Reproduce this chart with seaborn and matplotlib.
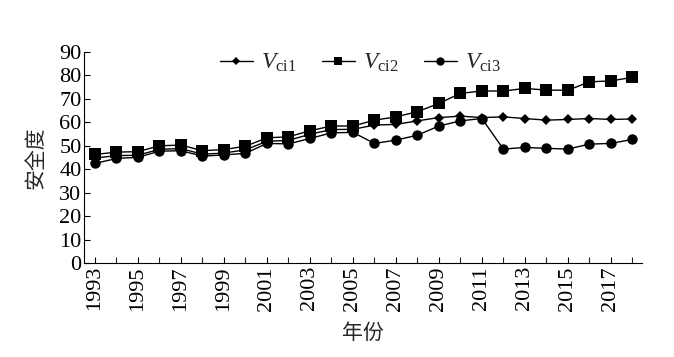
import numpy as np
import pandas as pd
import seaborn as sns
from matplotlib import pyplot as plt

years = list(range(1993, 2019))

v_ci1 = [44.8, 45.8, 46.0, 48.5, 48.8, 46.4, 46.9, 48.3, 51.9, 52.3, 54.9, 56.9, 57.0,
         58.8, 59.1, 60.6, 62.0, 62.6, 62.0, 62.3, 61.6, 60.9, 61.2, 61.6, 61.2, 61.4]
v_ci2 = [46.3, 47.3, 47.5, 50.0, 50.3, 47.9, 48.4, 49.8, 53.4, 53.8, 56.4, 58.4, 58.4,
         60.9, 62.3, 64.5, 68.0, 72.3, 73.3, 73.3, 74.4, 73.7, 73.6, 77.2, 77.6, 79.1]
v_ci3 = [42.5, 44.6, 45.1, 47.7, 47.9, 45.6, 46.1, 46.8, 51.0, 50.8, 53.1, 55.5, 55.7,
         51.0, 52.4, 54.5, 58.4, 60.6, 61.6, 48.6, 49.3, 48.9, 48.6, 50.7, 51.0, 52.7]

labels = [r'$V_{\rm ci1}$', r'$V_{\rm ci2}$', r'$V_{\rm ci3}$']

df = pd.DataFrame({'year': years * 3,
                   'value': v_ci1 + v_ci2 + v_ci3,
                   'series': [labels[0]] * len(years) + [labels[1]] * len(years) + [labels[2]] * len(years)})

sns.set_style('ticks')
plt.rcParams['font.family'] = ['Liberation Serif', 'Noto Sans CJK SC', 'DejaVu Sans']
plt.rcParams['mathtext.fontset'] = 'custom'
plt.rcParams['mathtext.rm'] = 'Liberation Serif'
plt.rcParams['mathtext.it'] = 'Liberation Serif:italic'

fig = plt.figure(figsize=(6.74, 3.57), dpi=100)
ax = fig.add_axes([0.125, 0.2625, 0.8275, 0.5925])

markers = {labels[0]: 'D', labels[1]: 's', labels[2]: 'o'}
sizes = {labels[0]: 5, labels[1]: 8, labels[2]: 7.5}
for lab in labels:
    sub = df[df['series'] == lab]
    sns.lineplot(x='year', y='value', data=sub, ax=ax, color='black', lw=1,
                 marker=markers[lab], markersize=sizes[lab], markeredgewidth=0,
                 label=lab)

ax.set_xlim(1992.5, 2018.45)
ax.set_ylim(0, 90)
ax.set_yticks(range(0, 91, 10))
ax.set_xticks(range(1993, 2018, 2))
ax.set_xticks(range(1993, 2019), minor=True)
ax.tick_params(axis='both', direction='in', length=4, width=0.8, labelsize=16,
               colors='black', pad=2)
ax.tick_params(axis='x', which='minor', direction='in', length=4, width=0.8)
ax.tick_params(axis='x', labelrotation=90)
for s in ['top', 'right']:
    ax.spines[s].set_visible(False)
for s in ['left', 'bottom']:
    ax.spines[s].set_linewidth(0.8)
    ax.spines[s].set_color('black')

ax.set_xlabel('年份', fontsize=15, family=['Noto Sans CJK SC'], labelpad=8)
ax.set_ylabel('安全度', fontsize=15, family=['Noto Sans CJK SC'], labelpad=9)

leg = ax.legend(loc='upper center', bbox_to_anchor=(0.495, 1.10), ncol=3, frameon=False,
                fontsize=17, handlelength=1.4, columnspacing=1.05, handletextpad=0.35,
                markerscale=0.8)

fig.savefig('out.png', dpi=100)
